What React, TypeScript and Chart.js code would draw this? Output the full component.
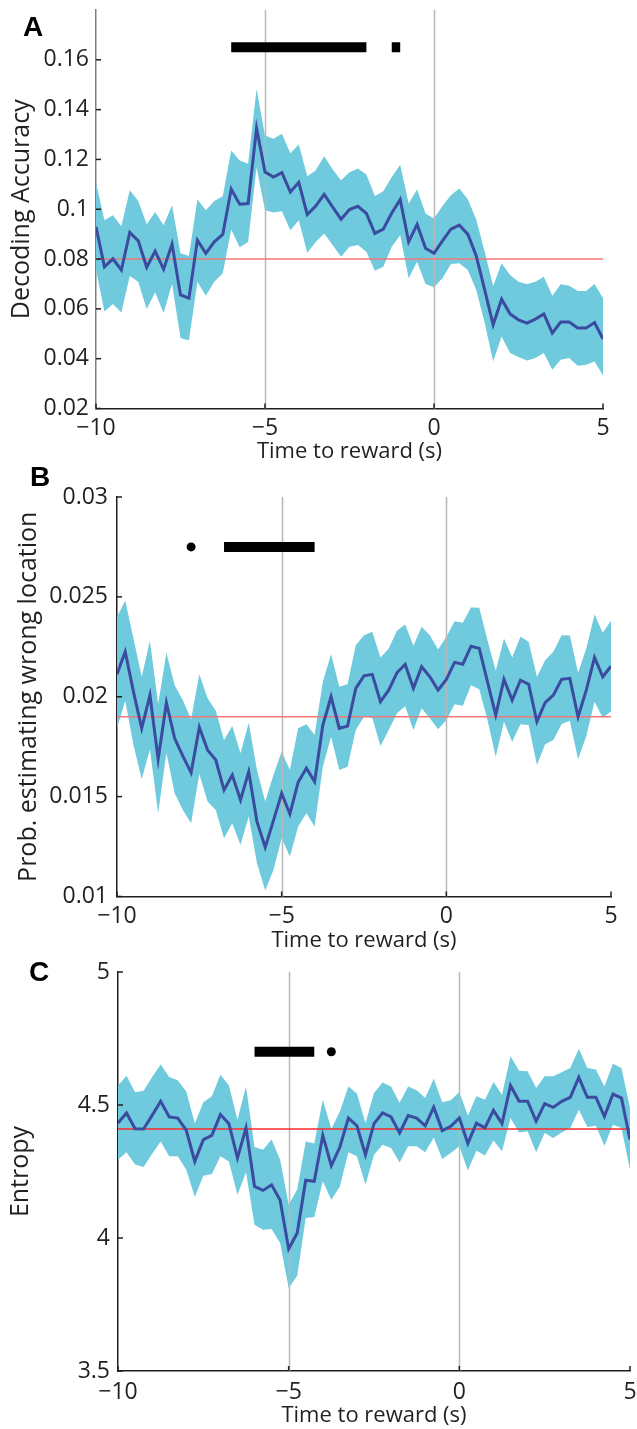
import React, { useEffect, useRef } from 'react';
import { Chart, registerables } from 'chart.js';

Chart.register(...registerables);

// ---------- DATA ----------
const timeAxis = [
  -10, -9.75, -9.5, -9.25, -9, -8.75, -8.5, -8.25, -8, -7.75,
  -7.5, -7.25, -7, -6.75, -6.5, -6.25, -6, -5.75, -5.5, -5.25,
  -5, -4.75, -4.5, -4.25, -4, -3.75, -3.5, -3.25, -3, -2.75,
  -2.5, -2.25, -2, -1.75, -1.5, -1.25, -1, -0.75, -0.5, -0.25,
  0, 0.25, 0.5, 0.75, 1, 1.25, 1.5, 1.75, 2, 2.25,
  2.5, 2.75, 3, 3.25, 3.5, 3.75, 4, 4.25, 4.5, 4.75,
  5,
];

const xTicks = [-10, -5, 0, 5];
const xTickLabels = ['\u221210', '\u22125', '0', '5'];
const refLines = [-5, 0];

// Panel A: decoding accuracy
const meanA = [
  0.0929, 0.0769, 0.0801, 0.0756, 0.0907, 0.0873, 0.0767, 0.0832, 0.0759, 0.0860,
  0.0656, 0.0643, 0.0876, 0.0823, 0.0869, 0.0899, 0.1081, 0.1020, 0.1023, 0.1325,
  0.1149, 0.1129, 0.1147, 0.1069, 0.1108, 0.0979, 0.1013, 0.1060, 0.1009, 0.0960,
  0.0999, 0.1012, 0.0983, 0.0903, 0.0920, 0.0985, 0.1039, 0.0869, 0.0939, 0.0843,
  0.0823, 0.0873, 0.0920, 0.0936, 0.0900, 0.0812, 0.0676, 0.0536, 0.0639, 0.0580,
  0.0556, 0.0543, 0.0559, 0.0580, 0.0503, 0.0547, 0.0547, 0.0523, 0.0523, 0.0545,
  0.0479,
];
const upperA = [
  0.1105, 0.0956, 0.0976, 0.0932, 0.1076, 0.1033, 0.0940, 0.0989, 0.0936, 0.1016,
  0.0823, 0.0812, 0.1039, 0.0996, 0.1033, 0.1052, 0.1236, 0.1196, 0.1183, 0.1483,
  0.1296, 0.1283, 0.1303, 0.1225, 0.1260, 0.1132, 0.1156, 0.1213, 0.1161, 0.1116,
  0.1149, 0.1164, 0.1140, 0.1053, 0.1072, 0.1129, 0.1179, 0.1023, 0.1079, 0.0983,
  0.0963, 0.1013, 0.1056, 0.1083, 0.1040, 0.0959, 0.0829, 0.0692, 0.0783, 0.0736,
  0.0709, 0.0699, 0.0709, 0.0729, 0.0653, 0.0699, 0.0693, 0.0672, 0.0672, 0.0700,
  0.0643,
];
const lowerA = [
  0.0756, 0.0589, 0.0620, 0.0585, 0.0732, 0.0709, 0.0599, 0.0667, 0.0583, 0.0700,
  0.0483, 0.0473, 0.0709, 0.0653, 0.0709, 0.0743, 0.0919, 0.0847, 0.0869, 0.1169,
  0.0996, 0.0987, 0.0992, 0.0916, 0.0956, 0.0825, 0.0869, 0.0903, 0.0856, 0.0809,
  0.0849, 0.0856, 0.0829, 0.0753, 0.0769, 0.0849, 0.0896, 0.0723, 0.0789, 0.0700,
  0.0687, 0.0723, 0.0780, 0.0783, 0.0756, 0.0676, 0.0543, 0.0389, 0.0489, 0.0423,
  0.0407, 0.0393, 0.0403, 0.0423, 0.0356, 0.0396, 0.0403, 0.0372, 0.0376, 0.0389,
  0.0332,
];
const chanceA = 0.08;
const yTicksA = [0.02, 0.04, 0.06, 0.08, 0.1, 0.12, 0.14, 0.16];
const yTickLabelsA = ['0.02', '0.04', '0.06', '0.08', '0.1', '0.12', '0.14', '0.16'];
const sigBarsA = [[-6, -2], [-1.25, -1]];
const sigDotsA: number[] = [];
const sigLevelA = 0.165;

// Panel B: probability of estimating wrong location
const meanB = [
  0.02113, 0.02225, 0.02025, 0.01842, 0.02008, 0.01687, 0.01970, 0.01792, 0.01703, 0.01620,
  0.01847, 0.01733, 0.01683, 0.01533, 0.01608, 0.01483, 0.01625, 0.01375, 0.01247, 0.01380,
  0.01517, 0.01413, 0.01572, 0.01642, 0.01575, 0.01858, 0.02000, 0.01842, 0.01853, 0.02042,
  0.02105, 0.02112, 0.01975, 0.02033, 0.02120, 0.02162, 0.02042, 0.02150, 0.02100, 0.02033,
  0.02087, 0.02172, 0.02163, 0.02253, 0.02242, 0.02075, 0.01908, 0.02087, 0.01983, 0.02083,
  0.02063, 0.01875, 0.01970, 0.02008, 0.02087, 0.02092, 0.01900, 0.02033, 0.02197, 0.02100,
  0.02153,
];
const upperB = [
  0.02400, 0.02480, 0.02292, 0.02100, 0.02280, 0.01963, 0.02220, 0.02058, 0.01983, 0.01887,
  0.02113, 0.01992, 0.01930, 0.01783, 0.01853, 0.01717, 0.01870, 0.01633, 0.01475, 0.01608,
  0.01725, 0.01633, 0.01842, 0.01862, 0.01808, 0.02075, 0.02213, 0.02050, 0.02063, 0.02258,
  0.02308, 0.02325, 0.02197, 0.02242, 0.02330, 0.02362, 0.02255, 0.02350, 0.02308, 0.02237,
  0.02300, 0.02378, 0.02370, 0.02447, 0.02445, 0.02283, 0.02130, 0.02292, 0.02197, 0.02300,
  0.02275, 0.02100, 0.02183, 0.02225, 0.02308, 0.02307, 0.02120, 0.02242, 0.02412, 0.02320,
  0.02380,
];
const lowerB = [
  0.01842, 0.01980, 0.01758, 0.01587, 0.01737, 0.01417, 0.01720, 0.01517, 0.01433, 0.01367,
  0.01613, 0.01475, 0.01433, 0.01292, 0.01367, 0.01258, 0.01400, 0.01167, 0.01030, 0.01133,
  0.01292, 0.01200, 0.01350, 0.01417, 0.01350, 0.01650, 0.01800, 0.01633, 0.01650, 0.01833,
  0.01900, 0.01895, 0.01753, 0.01833, 0.01917, 0.01953, 0.01833, 0.01942, 0.01892, 0.01837,
  0.01883, 0.01963, 0.01955, 0.02058, 0.02037, 0.01883, 0.01700, 0.01875, 0.01775, 0.01862,
  0.01858, 0.01658, 0.01762, 0.01783, 0.01863, 0.01880, 0.01687, 0.01803, 0.01975, 0.01895,
  0.01928,
];
const chanceB = 0.019;
const yTicksB = [0.01, 0.015, 0.02, 0.025, 0.03];
const yTickLabelsB = ['0.01', '0.015', '0.02', '0.025', '0.03'];
const sigBarsB = [[-6.75, -4]];
const sigDotsB = [-7.75];
const sigLevelB = 0.0275;

// Panel C: entropy
const meanC = [
  4.432, 4.470, 4.411, 4.410, 4.461, 4.514, 4.455, 4.451, 4.405, 4.288,
  4.370, 4.386, 4.464, 4.430, 4.301, 4.414, 4.194, 4.179, 4.200, 4.142,
  3.959, 4.019, 4.217, 4.213, 4.386, 4.272, 4.342, 4.451, 4.422, 4.313,
  4.430, 4.470, 4.455, 4.395, 4.460, 4.451, 4.422, 4.492, 4.404, 4.420,
  4.451, 4.355, 4.432, 4.414, 4.480, 4.430, 4.573, 4.514, 4.514, 4.439,
  4.505, 4.491, 4.514, 4.529, 4.604, 4.529, 4.529, 4.457, 4.541, 4.526,
  4.370,
];
const upperC = [
  4.573, 4.610, 4.548, 4.554, 4.605, 4.652, 4.605, 4.593, 4.551, 4.430,
  4.510, 4.533, 4.614, 4.573, 4.445, 4.570, 4.342, 4.332, 4.370, 4.294,
  4.125, 4.182, 4.363, 4.355, 4.520, 4.410, 4.476, 4.570, 4.543, 4.432,
  4.545, 4.585, 4.570, 4.508, 4.570, 4.555, 4.526, 4.599, 4.510, 4.518,
  4.549, 4.460, 4.533, 4.520, 4.586, 4.539, 4.683, 4.629, 4.627, 4.564,
  4.608, 4.608, 4.623, 4.639, 4.711, 4.639, 4.633, 4.570, 4.655, 4.639,
  4.489,
];
const lowerC = [
  4.294, 4.322, 4.276, 4.267, 4.317, 4.363, 4.307, 4.307, 4.257, 4.154,
  4.234, 4.241, 4.307, 4.288, 4.163, 4.247, 4.050, 4.031, 4.034, 3.981,
  3.812, 3.858, 4.075, 4.079, 4.213, 4.144, 4.194, 4.322, 4.307, 4.200,
  4.313, 4.351, 4.338, 4.284, 4.345, 4.345, 4.322, 4.378, 4.297, 4.320,
  4.345, 4.254, 4.328, 4.310, 4.367, 4.326, 4.451, 4.397, 4.401, 4.322,
  4.395, 4.376, 4.397, 4.414, 4.482, 4.417, 4.422, 4.347, 4.426, 4.414,
  4.257,
];
const chanceC = 4.41;
const yTicksC = [3.5, 4, 4.5, 5];
const yTickLabelsC = ['3.5', '4', '4.5', '5'];
const sigBarsC = [[-6, -4.25]];
const sigDotsC = [-3.75];
const sigLevelC = 4.7;

// ---------- STYLE ----------
const FONT = "'Open Sans', 'DejaVu Sans', sans-serif";
const TEXT = '#231f20';
const BAND = '#6ecadc';
const MEAN = '#3a4ba0';
const REF = '#b8b8b8';

const axisDecor = {
  id: 'axisDecor',
  afterDatasetDraw(chart: any, args: any, opts: any) {
    if (args.index !== opts.bandIndex) return;
    const { ctx, chartArea, scales } = chart;
    const x = scales.x;
    ctx.save();
    ctx.strokeStyle = REF;
    ctx.lineWidth = 1.5;
    refLines.forEach((v) => {
      const px = Math.round(x.getPixelForValue(v)) + 0.5;
      ctx.beginPath();
      ctx.moveTo(px, chartArea.top);
      ctx.lineTo(px, chartArea.bottom);
      ctx.stroke();
    });
    ctx.restore();
  },
  afterDraw(chart: any) {
    const { ctx, chartArea, scales } = chart;
    const x = scales.x;
    const y = scales.y;
    ctx.save();
    ctx.strokeStyle = TEXT;
    ctx.lineWidth = 1.5;
    x.ticks.forEach((t: any) => {
      const px = x.getPixelForValue(t.value);
      ctx.beginPath();
      ctx.moveTo(px, chartArea.bottom);
      ctx.lineTo(px, chartArea.bottom - 5);
      ctx.stroke();
    });
    y.ticks.forEach((t: any) => {
      const py = y.getPixelForValue(t.value);
      ctx.beginPath();
      ctx.moveTo(chartArea.left, py);
      ctx.lineTo(chartArea.left + 5, py);
      ctx.stroke();
    });
    ctx.restore();
  },
};

type PanelProps = {
  top: number;
  height: number;
  mean: number[];
  upper: number[];
  lower: number[];
  chance: number;
  chanceColor: string;
  yMin: number;
  yMax: number;
  yTicks: number[];
  yTickLabels: string[];
  yTitle: string;
  bars: number[][];
  dots: number[];
  sigLevel: number;
  yW: number;
  padR: number;
  padT: number;
  xH: number;
  xTickPad: number;
  xTitlePad: number;
  yTitlePad: number;
  yTickPad: number;
  yAxisColor: string;
};

function buildConfig(p: PanelProps): any {
  const pts = (ys: number[]) => timeAxis.map((t, i) => ({ x: t, y: ys[i] }));
  const tickFont = { family: FONT, size: 23 };
  const xTitleFont = { family: FONT, size: 22 };
  const yTitleFont = { family: FONT, size: 25 };
  const datasets: any[] = [
    {
      data: pts(p.mean),
      borderColor: MEAN,
      borderWidth: 3,
      pointRadius: 0,
      fill: false,
      order: 0,
      borderJoinStyle: 'miter',
    },
  ];
  p.bars.forEach((b) => {
    datasets.push({
      data: [
        { x: b[0], y: p.sigLevel },
        { x: b[1], y: p.sigLevel },
      ],
      borderColor: '#000',
      borderWidth: 10,
      borderCapStyle: 'butt',
      pointRadius: 0,
      fill: false,
      order: 0,
    });
  });
  p.dots.forEach((d) => {
    datasets.push({
      data: [{ x: d, y: p.sigLevel }],
      showLine: false,
      pointRadius: 4.5,
      pointBackgroundColor: '#000',
      pointBorderWidth: 0,
      fill: false,
      order: 0,
    });
  });
  datasets.push({
    data: [
      { x: timeAxis[0], y: p.chance },
      { x: timeAxis[timeAxis.length - 1], y: p.chance },
    ],
    borderColor: p.chanceColor,
    borderWidth: 1.5,
    pointRadius: 0,
    fill: false,
    order: 1,
  });
  const bandIndex = datasets.length;
  datasets.push({
    data: pts(p.upper),
    borderColor: 'rgba(0,0,0,0)',
    borderWidth: 0,
    pointRadius: 0,
    backgroundColor: BAND,
    fill: '+1',
    order: 2,
  });
  datasets.push({
    data: pts(p.lower),
    borderColor: 'rgba(0,0,0,0)',
    borderWidth: 0,
    pointRadius: 0,
    fill: false,
    order: 3,
  });

  return {
    type: 'line',
    data: { datasets },
    plugins: [axisDecor],
    options: {
      animation: false,
      responsive: false,
      maintainAspectRatio: false,
      events: [],
      layout: { padding: { left: 0, right: p.padR, top: p.padT, bottom: 0 } },
      plugins: {
        legend: { display: false },
        tooltip: { enabled: false },
        axisDecor: { bandIndex },
      },
      scales: {
        x: {
          type: 'linear',
          min: timeAxis[0],
          max: timeAxis[timeAxis.length - 1],
          afterBuildTicks: (s: any) => {
            s.ticks = xTicks.map((v) => ({ value: v }));
          },
          afterFit: (s: any) => {
            s.height = p.xH;
            s.paddingLeft = 0;
            s.paddingRight = 0;
          },
          ticks: {
            callback: (_v: any, i: number) => xTickLabels[i],
            padding: p.xTickPad,
            font: tickFont,
            color: TEXT,
            maxRotation: 0,
            autoSkip: false,
          },
          grid: { display: true, color: 'rgba(0,0,0,0)', drawTicks: false, drawOnChartArea: false },
          border: { display: true, color: TEXT, width: 1.5 },
          title: {
            display: true,
            text: 'Time to reward (s)',
            font: xTitleFont,
            color: TEXT,
            padding: { top: 0, bottom: p.xTitlePad },
          },
        },
        y: {
          type: 'linear',
          min: p.yMin,
          max: p.yMax,
          afterBuildTicks: (s: any) => {
            s.ticks = p.yTicks.map((v) => ({ value: v }));
          },
          afterFit: (s: any) => {
            s.width = p.yW;
            s.paddingTop = 0;
            s.paddingBottom = 0;
          },
          ticks: {
            callback: (_v: any, i: number) => p.yTickLabels[i],
            padding: p.yTickPad,
            font: tickFont,
            color: TEXT,
            autoSkip: false,
          },
          grid: { display: true, color: 'rgba(0,0,0,0)', drawTicks: false, drawOnChartArea: false },
          border: { display: true, color: p.yAxisColor, width: 1.5 },
          title: {
            display: true,
            text: p.yTitle,
            font: yTitleFont,
            color: TEXT,
            padding: { top: p.yTitlePad, bottom: 0 },
          },
        },
      },
    },
  };
}

function Panel(p: PanelProps) {
  const ref = useRef<HTMLCanvasElement | null>(null);
  useEffect(() => {
    if (!ref.current) return;
    const chart = new Chart(ref.current, buildConfig(p));
    return () => chart.destroy();
  }, []);
  return (
    <canvas
      ref={ref}
      width={637}
      height={p.height}
      style={{ position: 'absolute', left: 0, top: p.top, width: 637, height: p.height }}
    />
  );
}

const letterStyle: React.CSSProperties = {
  position: 'absolute',
  fontFamily: "'Liberation Sans', Arial, sans-serif",
  fontWeight: 'bold',
  fontSize: 28,
  lineHeight: '28px',
  color: '#000',
};

export default function App() {
  return (
    <div style={{ position: 'absolute', left: 0, top: 0, width: 637, height: 1429, background: '#fff', overflow: 'hidden' }}>
      <Panel
        top={0}
        height={470}
        mean={meanA}
        upper={upperA}
        lower={lowerA}
        chance={chanceA}
        chanceColor="#f07878"
        yMin={0.02}
        yMax={0.18}
        yTicks={yTicksA}
        yTickLabels={yTickLabelsA}
        yTitle="Decoding Accuracy"
        bars={sigBarsA}
        dots={sigDotsA}
        sigLevel={sigLevelA}
        yW={96}
        padR={34}
        padT={10}
        xH={61.5}
        xTickPad={6}
        xTitlePad={5}
        yTitlePad={7}
        yTickPad={7}
        yAxisColor="#808080"
      />
      <Panel
        top={470}
        height={490}
        mean={meanB}
        upper={upperB}
        lower={lowerB}
        chance={chanceB}
        chanceColor="#f07878"
        yMin={0.01}
        yMax={0.03}
        yTicks={yTicksB}
        yTickLabels={yTickLabelsB}
        yTitle="Prob. estimating wrong location"
        bars={sigBarsB}
        dots={sigDotsB}
        sigLevel={sigLevelB}
        yW={117}
        padR={26}
        padT={27}
        xH={63.5}
        xTickPad={6.5}
        xTitlePad={6}
        yTitlePad={14}
        yTickPad={9}
        yAxisColor={TEXT}
      />
      <Panel
        top={960}
        height={469}
        mean={meanC}
        upper={upperC}
        lower={lowerC}
        chance={chanceC}
        chanceColor="#ff2a2a"
        yMin={3.5}
        yMax={5}
        yTicks={yTicksC}
        yTickLabels={yTickLabelsC}
        yTitle="Entropy"
        bars={sigBarsC}
        dots={sigDotsC}
        sigLevel={sigLevelC}
        yW={118}
        padR={7}
        padT={12}
        xH={58}
        xTickPad={8}
        xTitlePad={0}
        yTitlePad={6}
        yTickPad={8}
        yAxisColor={TEXT}
      />
      <div style={{ ...letterStyle, left: 23, top: 13 }}>A</div>
      <div style={{ ...letterStyle, left: 30, top: 463 }}>B</div>
      <div style={{ ...letterStyle, left: 29, top: 958 }}>C</div>
    </div>
  );
}
